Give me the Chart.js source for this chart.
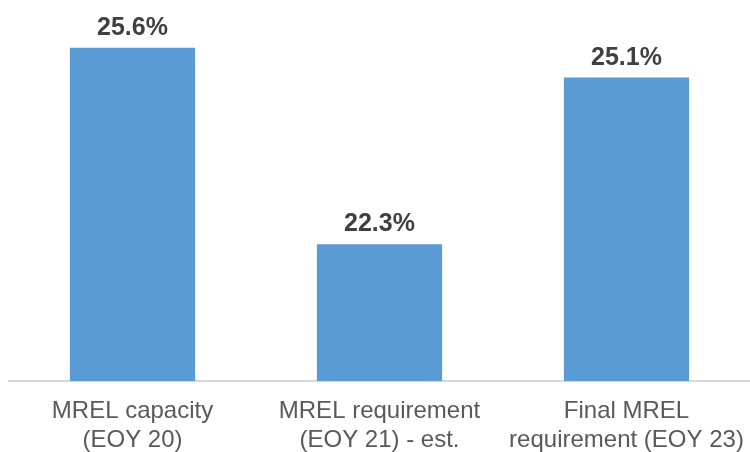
<!DOCTYPE html>
<html>
<head>
<meta charset="utf-8">
<script src="https://cdn.jsdelivr.net/npm/chart.js@4/dist/chart.umd.min.js"></script>
<style>
  html, body { margin: 0; padding: 0; background: #ffffff; }
  #wrap { width: 750px; height: 452px; position: relative; }
</style>
</head>
<body>
<div id="wrap"><canvas id="c" width="750" height="452"></canvas></div>
<script>
const categories = [
  ["MREL capacity", "(EOY 20)"],
  ["MREL requirement", "(EOY 21) - est."],
  ["Final MREL", "requirement (EOY 23)"]
];
const values = [25.6, 22.3, 25.1];
const valueLabels = ["25.6%", "22.3%", "25.1%"];

const labelPlugin = {
  id: 'valueLabels',
  afterDatasetsDraw(chart) {
    const ctx = chart.ctx;
    const meta = chart.getDatasetMeta(0);
    ctx.save();
    ctx.font = 'bold 25px "Liberation Sans", Arial, sans-serif';
    ctx.fillStyle = '#404040';
    ctx.textAlign = 'center';
    ctx.textBaseline = 'alphabetic';
    meta.data.forEach((bar, i) => {
      ctx.fillText(valueLabels[i], bar.x, bar.y - 13);
    });
    ctx.restore();
  }
};

new Chart(document.getElementById('c'), {
  type: 'bar',
  data: {
    labels: categories,
    datasets: [{
      data: values,
      backgroundColor: '#5b9bd5',
      borderWidth: 0,
      categoryPercentage: 1.0,
      barPercentage: 0.507
    }]
  },
  options: {
    responsive: false,
    animation: false,
    devicePixelRatio: 1,
    layout: { padding: { top: 24, left: 9, right: 0, bottom: 0 } },
    plugins: { legend: { display: false }, tooltip: { enabled: false } },
    scales: {
      y: {
        display: false,
        min: 20,
        max: 26
      },
      x: {
        grid: { display: false, drawTicks: false },
        border: { display: true, color: '#d9d9d9', width: 2 },
        ticks: {
          color: '#595959',
          font: { family: '"Liberation Sans", Arial, sans-serif', size: 24, lineHeight: 1.2 },
          padding: 16,
          maxRotation: 0,
          autoSkip: false
        },
        afterFit(scale) {
          scale.height = 71;
          scale.paddingLeft = 0;
          scale.paddingRight = 0;
        }
      }
    }
  },
  plugins: [labelPlugin]
});
</script>
</body>
</html>
